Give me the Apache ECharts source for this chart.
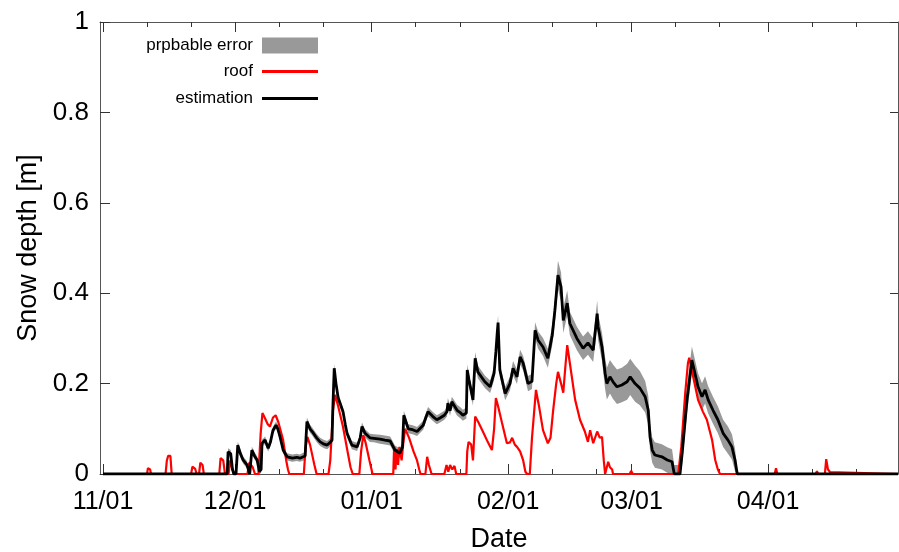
<!DOCTYPE html>
<html><head><meta charset="utf-8">
<script src="https://cdn.jsdelivr.net/npm/echarts@6/dist/echarts.min.js"></script>
<style>html,body{margin:0;padding:0;background:#fff}#c{width:899px;height:552px}</style>
</head><body><div id="c"></div>
<script>
// ---- data ----
const startDate = '2014-11-01';           // day 0 of the day offsets below
const axisStartDay = -0.68;               // left edge of plot (days from startDate)
const axisEndDay = 180.5;                 // right edge of plot
const monthTickDates = ['2014-11-01','2014-12-01','2015-01-01','2015-02-01','2015-03-01','2015-04-01'];
const monthTickLabels = ['11/01','12/01','01/01','02/01','03/01','04/01'];
const minorTickDates = ['2014-11-11','2014-11-21','2014-12-11','2014-12-21','2015-01-11','2015-01-21',
  '2015-02-11','2015-02-21','2015-03-11','2015-03-21','2015-04-11','2015-04-21'];

// roof: [day offset, snow depth m]
const roof = [
  [0,0],[10.0,0],[10.2,0.013],[10.7,0.01],[10.9,0],
  [14.2,0],[14.5,0.03],[14.8,0.04],[15.3,0.04],[15.6,0],
  [20.0,0],[20.3,0.016],[20.9,0.012],[21.3,0],
  [21.8,0],[22.1,0.025],[22.6,0.02],[22.9,0],
  [26.4,0],[26.7,0.035],[27.3,0.03],[27.7,0],
  [28.5,0],[28.9,0.03],[29.4,0.01],[29.8,0],
  [32.8,0],[33.2,0.025],[34.0,0.015],[34.5,0],
  [35.3,0],[35.8,0.09],[36.2,0.135],[36.7,0.125],[37.4,0.11],[37.9,0.105],[38.6,0.125],[39.2,0.13],[39.8,0.115],[40.9,0.075],[41.6,0.03],[42.0,0.01],[42.3,0],
  [45.6,0],[46.0,0.06],[46.4,0.082],[47.0,0.065],[48.0,0.02],[48.5,0],
  [51.2,0],[51.6,0.03],[52.2,0.14],[52.7,0.175],[53.4,0.15],[54.5,0.104],[55.6,0.046],[56.2,0.015],[56.7,0],
  [58.2,0],[58.6,0.05],[59.1,0.086],[59.6,0.07],[60.5,0.03],[61.2,0],
  [65.9,0],[66.1,0.06],[66.4,0.01],[66.7,0.055],[67.0,0.02],[67.3,0.06],[67.8,0.03],[68.2,0.07],[68.6,0.1],[69.5,0.08],[70.5,0.05],[71.3,0.03],[71.8,0.01],[72.1,0],
  [73.2,0],[73.6,0.038],[74.0,0.02],[74.6,0],
  [77.5,0],[78.0,0.02],[78.4,0.005],[78.8,0.02],[79.3,0.01],[79.8,0.018],[80.2,0],
  [82.5,0],[82.7,0.05],[83.0,0.071],[83.6,0.065],[84.0,0.03],[84.5,0.127],[85.2,0.115],[86.3,0.093],[87.4,0.07],[88.3,0.053],[88.8,0.1],[89.2,0.168],[89.7,0.15],[90.6,0.113],[91.7,0.068],[92.4,0.07],[92.9,0.08],[93.5,0.065],[94.0,0.06],[94.7,0.05],[95.4,0.03],[95.9,0.005],[96.3,0],
  [96.9,0],[97.4,0.08],[98.3,0.186],[99.0,0.15],[99.9,0.097],[101.0,0.068],[101.6,0.08],[102.2,0.14],[102.9,0.2],[103.3,0.226],[104.0,0.2],[104.5,0.18],[105.0,0.24],[105.4,0.285],[106.0,0.245],[107.2,0.164],[108.3,0.12],[109.4,0.094],[110.1,0.071],[110.6,0.097],[111.3,0.068],[112.2,0.094],[112.8,0.08],[113.3,0.082],[113.7,0.03],[114.0,0],
  [114.4,0],[114.7,0.027],[115.1,0.015],[115.6,0.01],[115.8,0],
  [119.6,0],[119.9,0.007],[120.3,0],
  [130.6,0],[131.3,0.06],[132.2,0.18],[132.8,0.245],[133.1,0.257],[134.0,0.215],[135.1,0.164],[136.2,0.138],[137.1,0.12],[138.3,0.075],[139.0,0.031],[139.6,0.01],[140.1,0],
  [152.5,0],[152.8,0.013],[153.1,0],
  [161.8,0],[162.1,0.006],[162.4,0],
  [163.9,0],[164.2,0.033],[164.6,0.01],[165.1,0.004],[165.4,0],
  [180.5,0]
];

// estimation: [day offset, snow depth m, probable error m]
const estimation = [
  [0,0,0],[28.2,0,0],[28.4,0.049,0.008],[29.0,0.045,0.008],[29.4,0.01,0.008],[29.7,0,0.005],[30.2,0,0.005],
  [30.6,0.064,0.008],[31.2,0.045,0.008],[31.8,0.031,0.008],[32.7,0.02,0.008],[33.3,0,0.005],[33.6,0,0.005],
  [33.8,0.053,0.008],[34.4,0.04,0.008],[35.0,0.031,0.008],[35.5,0.005,0.008],[35.9,0.01,0.008],[36.1,0.068,0.008],
  [36.8,0.075,0.008],[37.5,0.057,0.008],[38.0,0.07,0.008],[38.6,0.097,0.008],[39.3,0.108,0.008],[39.7,0.1,0.008],
  [40.2,0.082,0.008],[40.9,0.053,0.008],[41.8,0.038,0.008],[43.0,0.035,0.008],[44.0,0.037,0.008],[44.7,0.035,0.008],
  [45.9,0.04,0.009],[46.1,0.08,0.009],[46.3,0.116,0.009],[47.0,0.1,0.009],[47.5,0.094,0.009],[48.5,0.08,0.009],
  [49.3,0.071,0.009],[50.2,0.066,0.009],[50.9,0.064,0.009],[51.6,0.07,0.009],[52.0,0.075,0.009],[52.2,0.15,0.01],
  [52.5,0.234,0.01],[52.9,0.2,0.01],[53.4,0.168,0.01],[54.5,0.138,0.009],[55.0,0.11,0.009],[55.4,0.09,0.009],
  [56.5,0.064,0.009],[57.7,0.06,0.009],[58.4,0.08,0.009],[58.8,0.105,0.009],[59.5,0.09,0.009],[60.6,0.08,0.009],
  [61.5,0.079,0.009],[62.9,0.077,0.01],[64.0,0.075,0.01],[65.2,0.073,0.01],[66.3,0.053,0.01],[67.4,0.046,0.01],
  [68.0,0.06,0.01],[68.3,0.13,0.01],[69.3,0.1,0.01],[70.3,0.098,0.01],[71.3,0.094,0.01],[72.7,0.108,0.01],
  [73.3,0.125,0.01],[73.8,0.138,0.01],[74.9,0.127,0.01],[75.8,0.12,0.01],[76.5,0.124,0.01],[77.5,0.13,0.01],
  [78.1,0.138,0.011],[78.3,0.157,0.011],[78.8,0.14,0.011],[79.2,0.16,0.011],[80.4,0.141,0.012],[81.2,0.135,0.012],
  [81.7,0.13,0.012],[82.5,0.135,0.012],[82.7,0.23,0.013],[83.1,0.208,0.013],[84.0,0.164,0.013],[84.5,0.256,0.014],
  [85.1,0.226,0.014],[86.7,0.204,0.014],[87.9,0.193,0.014],[88.8,0.223,0.015],[89.2,0.27,0.015],[89.5,0.311,0.016],
  [89.7,0.335,0.016],[90.1,0.23,0.015],[91.3,0.178,0.015],[92.4,0.2,0.015],[93.1,0.234,0.016],[94.0,0.215,0.016],
  [94.7,0.259,0.016],[95.4,0.245,0.016],[96.5,0.2,0.017],[97.4,0.205,0.017],[98.1,0.318,0.018],[98.8,0.296,0.019],
  [99.9,0.281,0.02],[101.0,0.256,0.021],[102.0,0.307,0.022],[102.6,0.362,0.026],[103.3,0.44,0.032],[104.0,0.414,0.032],
  [104.5,0.34,0.028],[105.4,0.378,0.028],[106.0,0.333,0.026],[107.6,0.3,0.026],[109.0,0.278,0.026],[110.1,0.29,0.026],
  [111.3,0.274,0.026],[112.2,0.355,0.029],[112.4,0.326,0.029],[113.3,0.281,0.031],[114.0,0.223,0.035],[114.4,0.2,0.035],
  [115.1,0.215,0.037],[115.8,0.204,0.038],[116.7,0.193,0.038],[117.8,0.197,0.038],[119.0,0.204,0.04],[119.7,0.215,0.04],
  [120.8,0.2,0.04],[121.9,0.19,0.038],[123.1,0.171,0.035],[123.8,0.141,0.032],[124.2,0.082,0.03],[124.7,0.053,0.028],
  [125.3,0.042,0.028],[126.9,0.038,0.028],[128.1,0.031,0.028],[129.2,0.027,0.028],[129.7,0,0.02],[131.0,0,0.02],
  [131.5,0.046,0.025],[132.6,0.164,0.03],[133.7,0.252,0.03],[134.4,0.223,0.03],[135.1,0.193,0.03],[136.0,0.171,0.03],
  [136.7,0.186,0.03],[137.4,0.164,0.03],[138.5,0.141,0.03],[139.6,0.12,0.03],[140.8,0.09,0.03],[141.9,0.075,0.03],
  [142.8,0.06,0.028],[143.5,0.031,0.025],[144.0,0,0.01],[144.4,0,0],[180.5,0,0]
];

// ---- helpers ----
const DAY = 86400000;
function parseDate(s){ const p = s.split('-').map(Number); return Date.UTC(p[0], p[1]-1, p[2]); }
const base = parseDate(startDate);
const t = d => base + d * DAY;
const monthTicks = monthTickDates.map(parseDate);
const minorTicks = minorTickDates.map(parseDate);
const labelOf = {};
monthTicks.forEach((v, i) => { labelOf[v] = monthTickLabels[i]; });

const roofData = roof.map(p => [t(p[0]), p[1]]);
const estData = estimation.map(p => [t(p[0]), p[1]]);
// band: [time, lower, upper]
const bandData = estimation.map(p => [t(p[0]), Math.max(0, p[1] - p[2]), p[1] + p[2]]);

const FONT = '"Liberation Sans", Arial, Helvetica, sans-serif';
const AXIS_COLOR = '#555';
const TICK_COLOR = '#333';
const BAND_COLOR = '#999999';
const xMin = t(axisStartDay), xMax = t(axisEndDay);

function xAxisCfg(pos, ticks, len, showLine, showLabel) {
  return {
    type: 'value', position: pos, min: xMin, max: xMax, gridIndex: 0, scale: true,
    axisLine: { show: showLine, onZero: false, lineStyle: { color: AXIS_COLOR, width: 1 } },
    axisTick: { show: true, inside: true, length: len, customValues: ticks, lineStyle: { color: TICK_COLOR, width: 1 } },
    axisLabel: showLabel ? {
      show: true, customValues: ticks, margin: 16, color: '#000', fontSize: 25, fontFamily: FONT,
      formatter: v => labelOf[v] !== undefined ? labelOf[v] : ''
    } : { show: false },
    splitLine: { show: false }, minorTick: { show: false }
  };
}

const xAxes = [
  Object.assign(xAxisCfg('bottom', monthTicks, 10, true, true), {
    name: 'Date', nameLocation: 'middle', nameGap: 52,
    nameTextStyle: { fontSize: 27, color: '#000', fontFamily: FONT }
  }),
  xAxisCfg('bottom', minorTicks, 5, false, false),
  xAxisCfg('top', monthTicks, 10, true, false),
  xAxisCfg('top', minorTicks, 5, false, false)
];

const legendBase = {
  orient: 'horizontal', align: 'right', right: 581, padding: 0, itemWidth: 56,
  icon: 'rect', selectedMode: false,
  textStyle: { fontSize: 17, color: '#000', fontFamily: FONT, padding: [0, 4, 0, 0] }
};

function renderBand(params, api) {
  if (params.dataIndex !== 0) return null;
  const upper = [], lower = [];
  for (let i = 0; i < bandData.length; i++) {
    upper.push(api.coord([bandData[i][0], bandData[i][2]]));
    lower.push(api.coord([bandData[i][0], bandData[i][1]]));
  }
  const pts = upper.concat(lower.reverse());
  return {
    type: 'polygon',
    shape: { points: pts },
    style: { fill: BAND_COLOR, stroke: null }
  };
}

const option = {
  animation: false,
  backgroundColor: '#fff',
  grid: { left: 100, right: 1, top: 22, bottom: 78, containLabel: false, outerBoundsMode: 'none' },
  legend: [
    Object.assign({}, legendBase, { top: 37, itemHeight: 16,
      data: [{ name: 'prpbable error', itemStyle: { color: BAND_COLOR } }] }),
    Object.assign({}, legendBase, { top: 63, itemHeight: 3,
      data: [{ name: 'roof', itemStyle: { color: '#ff0000' } }] }),
    Object.assign({}, legendBase, { top: 90, itemHeight: 3,
      data: [{ name: 'estimation', itemStyle: { color: '#000000' } }] })
  ],
  xAxis: xAxes,
  yAxis: [
    {
      type: 'value', position: 'left', min: 0, max: 1, interval: 0.2,
      name: 'Snow depth [m]', nameLocation: 'middle', nameGap: 58,
      nameTextStyle: { fontSize: 27, color: '#000', fontFamily: FONT },
      axisLine: { show: true, onZero: false, lineStyle: { color: AXIS_COLOR, width: 1 } },
      axisTick: { show: true, inside: true, length: 10, lineStyle: { color: TICK_COLOR } },
      axisLabel: { margin: 11, color: '#000', fontSize: 26, fontFamily: FONT },
      splitLine: { show: false }
    },
    {
      type: 'value', position: 'right', min: 0, max: 1, interval: 0.2,
      axisLine: { show: true, onZero: false, lineStyle: { color: AXIS_COLOR, width: 1 } },
      axisTick: { show: true, inside: true, length: 8, lineStyle: { color: TICK_COLOR } },
      axisLabel: { show: false }, splitLine: { show: false }
    }
  ],
  series: [
    { name: 'prpbable error', type: 'custom', renderItem: renderBand, data: bandData,
      encode: { x: 0, y: [1, 2] }, itemStyle: { color: BAND_COLOR }, silent: true, clip: true, z: 1 },
    { name: 'roof', type: 'line', data: roofData, showSymbol: false, symbol: 'none',
      lineStyle: { color: '#ff0000', width: 2.2 }, itemStyle: { color: '#ff0000' }, z: 2 },
    { name: 'estimation', type: 'line', data: estData, showSymbol: false, symbol: 'none',
      lineStyle: { color: '#000000', width: 2.8 }, itemStyle: { color: '#000000' }, z: 3 }
  ]
};

const chart = echarts.init(document.getElementById('c'), null, { renderer: 'canvas' });
chart.setOption(option);
</script>
</body></html>
